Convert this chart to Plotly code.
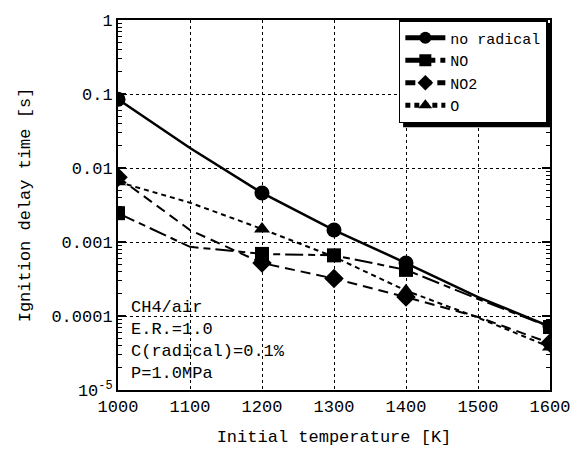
import plotly.graph_objects as go

temps = [1000, 1100, 1200, 1300, 1400, 1500, 1600]
no_radical = [0.085, 0.0186, 0.0046, 0.00145, 0.00052, 0.00018, 7.2e-5]
no_vals = [0.00245, 0.00086, 0.00069, 0.00066, 0.00042, 0.00017, 7.1e-5]
no2_vals = [0.0075, 0.00145, 0.00052, 0.00032, 0.00018, 9.7e-5, 4.3e-5]
o_vals = [0.0065, 0.0034, 0.0015, 0.00063, 0.00022, 9.5e-5, 3.8e-5]

# which points carry a marker
mk_main = [1, 0, 1, 1, 1, 0, 1]
mk_o = [1, 0, 1, 0, 1, 0, 1]

y_tickvals = [1e-5, 1e-4, 1e-3, 1e-2, 1e-1, 1]
y_ticktext = ["10<sup>-5</sup>", "0.0001", "0.001", "0.01", "0.1", "1"]
x_tickvals = [1000, 1100, 1200, 1300, 1400, 1500, 1600]

FONT = "Liberation Mono"

def sizes(flags, s):
    return [s if f else 0 for f in flags]

def mk(symbol, flags, s):
    return dict(symbol=symbol, size=sizes(flags, s), color="#000000", opacity=1,
                line=dict(width=0, color="#000000"))

fig = go.Figure()
fig.add_trace(go.Scatter(x=temps, y=no_radical, name="no radical", mode="lines+markers",
                         line=dict(color="black", width=2.5),
                         marker=mk("circle", mk_main, 15)))
fig.add_trace(go.Scatter(x=temps, y=no_vals, name="NO", mode="lines+markers",
                         line=dict(color="black", width=2, dash="18px,5px,7px,5px"),
                         marker=mk("square", mk_main, 14)))
fig.add_trace(go.Scatter(x=temps, y=no2_vals, name="NO2", mode="lines+markers",
                         line=dict(color="black", width=2, dash="10px,6px"),
                         marker=mk("diamond", mk_main, 15)))
fig.add_trace(go.Scatter(x=temps, y=o_vals, name="O", mode="lines+markers",
                         line=dict(color="black", width=2, dash="5px,4px"),
                         marker=mk("triangle-up", mk_o, 14)))

minor_vals = [m * 10 ** e for e in range(-5, 0) for m in range(2, 10)]

fig.update_layout(
    width=577, height=457,
    margin=dict(l=118, r=27, t=20, b=67),
    paper_bgcolor="white", plot_bgcolor="white",
    font=dict(family=FONT, size=17, color="black"),
    showlegend=True,
    legend=dict(x=0.995, y=1, xanchor="right", yanchor="top",
                bgcolor="white", bordercolor="black", borderwidth=1.5,
                font=dict(family=FONT, size=15), itemsizing="constant",
                itemwidth=40, tracegroupgap=0),
    xaxis=dict(range=[1000, 1600], tickvals=x_tickvals, ticks="", automargin=False,
               showline=True, linecolor="black", linewidth=2, mirror=True,
               showgrid=True, gridcolor="black", griddash="dot", gridwidth=1,
               zeroline=False, tickfont=dict(family=FONT, size=17),
               title=dict(text="Initial temperature [K]", font=dict(family=FONT, size=17), standoff=14)),
    yaxis=dict(type="log", range=[-5, 0], tickvals=y_tickvals, ticktext=y_ticktext, automargin=False,
               ticks="inside", ticklen=8, tickwidth=1.5, tickcolor="black",
               showline=True, linecolor="black", linewidth=2, mirror="allticks",
               showgrid=True, gridcolor="black", griddash="dot", gridwidth=1,
               zeroline=False, tickfont=dict(family=FONT, size=17),
               minor=dict(tickvals=minor_vals, ticks="inside", ticklen=4, tickcolor="black",
                          tickwidth=1, showgrid=False),
               title=dict(text="Ignition delay time [s]", font=dict(family=FONT, size=17), standoff=16)),
)

# legend drop shadow
fig.add_shape(type="rect", xref="paper", yref="paper", layer="above",
              x0=0.66, x1=1.004, y0=0.71, y1=0.99,
              fillcolor="black", line=dict(width=0))

fig.add_annotation(xref="paper", yref="paper", x=0.025, y=0.255, xanchor="left", yanchor="top",
                   align="left", showarrow=False,
                   text="CH4/air<br>E.R.=1.0<br>C(radical)=0.1%<br>P=1.0MPa",
                   font=dict(family=FONT, size=17, color="black"))

fig.write_html("out.html", config={"displayModeBar": False},
               post_script="document.body.style.margin='0';")
